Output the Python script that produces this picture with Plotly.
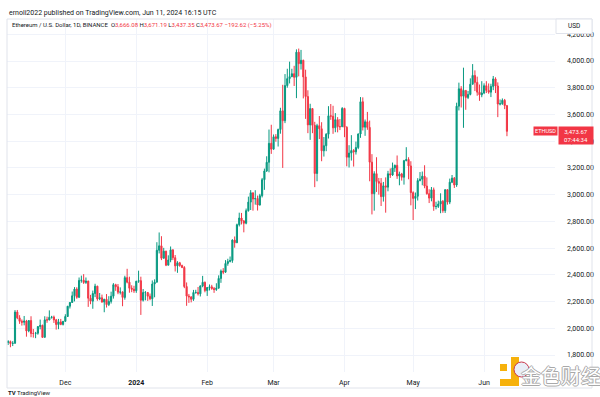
import pandas as pd
import plotly.graph_objects as go

# ---------------- data (ETH/USD daily, Binance) ----------------
start_date = "2023-11-06"

open_nov = [1894,1900,1886,1888,2121,2078,2052,2045,2054,1980,2058,1961,1961,1963,2013,2022,1932,2063,2062,2082,2084,2063,2028,2048,2029]
high_nov = [1911,1908,1904,2136,2137,2098,2066,2092,2063,2060,2090,1995,1973,2015,2065,2027,2090,2087,2134,2093,2095,2070,2070,2070,2054]
low_nov = [1875,1858,1867,1884,2068,2033,2020,2022,1937,1970,1933,1930,1926,1952,1992,1930,1932,2041,2060,2072,2040,1990,1993,2023,2021]
close_nov = [1900,1886,1888,2121,2078,2052,2045,2054,1980,2058,1961,1961,1963,2013,2022,1932,2063,2062,2082,2084,2063,2028,2048,2029,2052]

open_dec = [2052,2088,2165,2193,2243,2293,2232,2358,2360,2343,2353,2225,2203,2260,2315,2220,2228,2196,2217,2177,2201,2240,2326,2311,2270,2272,2231,2379,2345,2300,2292]
high_dec = [2105,2167,2195,2275,2308,2307,2380,2394,2405,2380,2356,2250,2282,2333,2318,2264,2252,2220,2256,2240,2274,2338,2333,2331,2306,2276,2393,2445,2386,2322,2318]
low_dec = [2050,2085,2148,2191,2201,2221,2226,2341,2332,2332,2160,2180,2146,2233,2206,2210,2192,2120,2155,2166,2185,2222,2280,2255,2253,2165,2214,2336,2266,2270,2265]
close_dec = [2088,2165,2193,2243,2293,2232,2358,2360,2343,2353,2225,2203,2260,2315,2220,2228,2196,2217,2177,2201,2240,2326,2311,2270,2272,2231,2379,2345,2300,2292,2281]

open_jan = [2281,2352,2356,2210,2268,2268,2240,2221,2331,2345,2584,2617,2524,2577,2472,2511,2587,2528,2467,2490,2470,2455,2312,2241,2235,2217,2268,2268,2258,2317,2344]
high_jan = [2355,2431,2386,2294,2278,2270,2260,2358,2366,2644,2717,2689,2602,2580,2546,2612,2590,2548,2502,2497,2476,2465,2343,2257,2238,2287,2288,2309,2321,2392,2350]
low_jan = [2265,2340,2100,2200,2209,2205,2210,2167,2232,2343,2560,2510,2522,2465,2472,2494,2510,2425,2415,2460,2450,2300,2168,2190,2194,2205,2258,2245,2238,2307,2269]
close_jan = [2352,2356,2210,2268,2268,2240,2221,2331,2345,2584,2617,2524,2577,2472,2511,2587,2528,2467,2490,2470,2455,2312,2241,2235,2217,2268,2268,2258,2317,2344,2282]

open_feb = [2282,2305,2310,2297,2290,2300,2373,2428,2420,2485,2500,2507,2660,2640,2775,2825,2803,2786,2880,2944,3014,2967,2971,2922,2992,3112,3177,3242,3384]
high_feb = [2309,2328,2325,2309,2337,2396,2440,2450,2510,2520,2537,2666,2687,2783,2865,2863,2810,2896,2985,3034,3014,3033,2993,3006,3125,3195,3287,3487,3523]
low_feb = [2242,2283,2288,2265,2280,2298,2340,2405,2415,2468,2493,2490,2603,2638,2762,2777,2718,2778,2873,2885,2880,2925,2881,2919,2979,3036,3170,3167,3305]
close_feb = [2305,2310,2297,2290,2300,2373,2428,2420,2485,2500,2507,2660,2640,2775,2825,2803,2786,2880,2944,3014,2967,2971,2922,2992,3112,3177,3242,3384,3340]

open_mar = [3340,3433,3421,3487,3627,3553,3816,3868,3883,3905,3878,4066,3980,4005,3881,3734,3522,3644,3519,3158,3516,3493,3328,3366,3452,3590,3587,3500,3561,3509,3508]
high_mar = [3450,3453,3494,3650,3822,3902,3942,3995,3942,3964,4087,4093,4083,4010,3935,3781,3680,3645,3545,3530,3588,3542,3431,3460,3662,3678,3665,3610,3580,3566,3655]
low_mar = [3338,3396,3360,3456,3200,3535,3800,3832,3879,3813,3722,3885,3936,3720,3567,3460,3410,3460,3056,3100,3416,3250,3285,3325,3420,3560,3455,3467,3466,3483,3508]
close_mar = [3433,3421,3487,3627,3553,3816,3868,3883,3905,3878,4066,3980,4005,3881,3734,3522,3644,3519,3158,3516,3493,3328,3366,3452,3590,3587,3500,3561,3509,3508,3645]

open_apr = [3645,3504,3280,3311,3330,3320,3352,3454,3695,3505,3545,3503,3243,3007,3157,3098,3085,2985,3066,3056,3156,3147,3200,3219,3140,3155,3130,3254,3263,3215]
high_apr = [3650,3512,3370,3445,3341,3397,3458,3730,3728,3562,3619,3554,3303,3175,3280,3125,3124,3095,3129,3178,3196,3240,3225,3293,3172,3163,3260,3355,3280,3250]
low_apr = [3430,3212,3203,3255,3210,3300,3340,3425,3480,3440,3485,3100,2852,2880,3020,3000,2915,2948,2865,3025,3125,3140,3170,3118,3070,3105,3075,3250,3115,2920]
close_apr = [3504,3280,3311,3330,3320,3352,3454,3695,3505,3545,3503,3243,3007,3157,3098,3085,2985,3066,3056,3156,3147,3200,3219,3140,3155,3130,3254,3263,3215,3015]

open_may = [3015,2972,2988,3105,3116,3138,3064,3007,2974,3036,2911,2912,2930,2950,2880,3037,2944,3093,3123,3072,3662,3792,3737,3780,3727,3750,3826,3892,3840,3767,3747]
high_may = [3025,3016,3123,3169,3173,3220,3129,3040,3057,3053,2947,2955,3010,2960,3040,3040,3120,3147,3132,3688,3838,3812,3950,3780,3776,3870,3977,3930,3883,3824,3849]
low_may = [2810,2892,2956,3100,3070,3048,3000,2937,2950,2879,2890,2900,2861,2864,2863,2925,2929,3086,3050,3058,3630,3652,3500,3635,3715,3743,3825,3775,3740,3702,3729]
close_may = [2972,2988,3105,3116,3138,3064,3007,2974,3036,2911,2912,2930,2950,2880,3037,2944,3093,3123,3072,3662,3792,3737,3780,3727,3750,3826,3892,3840,3767,3747,3761]

open_jun = [3761,3815,3780,3767,3810,3866,3813,3678,3680,3706,3666.08]
high_jun = [3833,3849,3832,3830,3888,3878,3840,3712,3720,3716,3671.19]
low_jun = [3752,3760,3755,3730,3782,3760,3580,3668,3672,3640,3437.35]
close_jun = [3815,3780,3767,3810,3866,3813,3678,3680,3706,3666.29,3473.67]

opens = open_nov + open_dec + open_jan + open_feb + open_mar + open_apr + open_may + open_jun
highs = high_nov + high_dec + high_jan + high_feb + high_mar + high_apr + high_may + high_jun
lows = low_nov + low_dec + low_jan + low_feb + low_mar + low_apr + low_may + low_jun
closes = close_nov + close_dec + close_jan + close_feb + close_mar + close_apr + close_may + close_jun
dates = pd.date_range(start_date, periods=len(closes), freq="D")

price_ticks = [1800, 2000, 2200, 2400, 2600, 2800, 3000, 3200, 3400, 3600, 3800, 4000, 4200]
month_ticks = ["2023-12-01", "2024-01-01", "2024-02-01", "2024-03-01", "2024-04-01", "2024-05-01", "2024-06-01"]
month_labels = ["Dec", "<b>2024</b>", "Feb", "Mar", "Apr", "May", "Jun"]

# ---------------- styling / layout helpers ----------------
W, H = 600, 397
L, R, T, B = 7, 555, 19, 372
def px(x):
    return (x - L) / (R - L)
def py(y):
    return (B - y) / (B - T)

GREEN = "#089981"
RED = "#F23645"
TXT = "#131722"
GRID = "#f0f3fa"
FONT = "Roboto"

fig = go.Figure(go.Candlestick(
    x=dates, open=opens, high=highs, low=lows, close=closes,
    increasing=dict(line=dict(color=GREEN, width=1), fillcolor=GREEN),
    decreasing=dict(line=dict(color=RED, width=1), fillcolor=RED),
    whiskerwidth=0, showlegend=False, hoverinfo="skip",
))

fig.update_layout(
    width=W, height=H,
    margin=dict(l=L, r=W - R, t=T, b=H - B),
    paper_bgcolor="white", plot_bgcolor="white",
    font=dict(family=FONT, color=TXT, size=7),
    xaxis=dict(
        type="date", range=["2023-11-05 12:00", "2024-07-02"],
        tickvals=month_ticks, ticktext=month_labels,
        showgrid=True, gridcolor=GRID, gridwidth=1,
        zeroline=False, showline=False, ticks="",
        tickfont=dict(size=7, color=TXT), ticklabelstandoff=5,
        rangeslider=dict(visible=False),
    ),
    yaxis=dict(
        range=[1672.8, 4314.3], side="right",
        tickvals=price_ticks, tickformat=",.2f",
        showgrid=True, gridcolor=GRID, gridwidth=1,
        zeroline=False, showline=False, ticks="",
        tickfont=dict(size=7, color=TXT), ticklabelstandoff=11,
    ),
)

shapes = []
annotations = []

# chart frame
shapes.append(dict(type="rect", xref="paper", yref="paper",
                   x0=px(L), x1=px(592), y0=py(388), y1=py(T),
                   line=dict(color="#e0e3eb", width=1), fillcolor="rgba(0,0,0,0)", layer="above"))
# USD box
shapes.append(dict(type="rect", xref="paper", yref="paper",
                   x0=px(556), x1=px(592), y0=py(33.5), y1=py(T),
                   line=dict(color="#e0e3eb", width=1), fillcolor="white", layer="above"))
annotations.append(dict(xref="paper", yref="paper", x=px(574), y=py(26), text="USD",
                        showarrow=False, font=dict(size=6.5, color=TXT),
                        xanchor="center", yanchor="middle"))

# header lines
annotations.append(dict(xref="paper", yref="paper", x=px(7), y=py(13),
                        text="ernoli2022 published on TradingView.com, Jun 11, 2024 16:15 UTC",
                        showarrow=False, font=dict(size=7, color=TXT),
                        xanchor="left", yanchor="middle"))
red = lambda s: f"<span style='color:{RED}'>{s}</span>"
last_o, last_h, last_l, last_c = opens[-1], highs[-1], lows[-1], closes[-1]
chg = last_c - closes[-2]
pct = chg / closes[-2] * 100
hdr = ("Ethereum / U.S. Dollar, 1D, BINANCE&nbsp;&nbsp;"
       f"O{red(f'{last_o:,.2f}')} H{red(f'{last_h:,.2f}')} L{red(f'{last_l:,.2f}')} "
       f"C{red(f'{last_c:,.2f}')} {red(f'−{abs(chg):,.2f} (−{abs(pct):.2f}%)')}")
annotations.append(dict(xref="paper", yref="paper", x=px(10), y=py(25), text=hdr,
                        showarrow=False, font=dict(size=6, color=TXT),
                        xanchor="left", yanchor="middle"))

# last price labels
annotations.append(dict(xref="paper", yref="y", x=px(545), y=last_c, text="ETHUSD",
                        showarrow=False, font=dict(size=5.5, color="white"),
                        bgcolor=RED, borderpad=1, xanchor="center", yanchor="middle"))
annotations.append(dict(xref="paper", yref="y", x=px(558), y=last_c, yshift=5,
                        text=f"{last_c:,.2f}<br>07:44:34",
                        showarrow=False, font=dict(size=6, color="white"),
                        bgcolor=RED, borderpad=1, width=32,
                        xanchor="left", yanchor="top", align="center"))

# TradingView logo text
annotations.append(dict(xref="paper", yref="paper", x=px(6), y=py(392),
                        text="<b>TV</b> TradingView", showarrow=False,
                        font=dict(size=6, color=TXT), xanchor="left", yanchor="middle"))

# watermark (金色财经)
GOLD = "#F6B10B"
for (x0, y0, x1, y1) in [(500, 364, 507, 371), (511, 357, 519, 386), (500, 379, 519, 386)]:
    shapes.append(dict(type="rect", xref="paper", yref="paper",
                       x0=px(x0), x1=px(x1), y0=py(y1), y1=py(y0),
                       line=dict(width=0), fillcolor=GOLD, layer="above"))
shapes.append(dict(type="circle", xref="paper", yref="paper",
                   x0=px(514), x1=px(529), y0=py(377), y1=py(362),
                   line=dict(color="#c9374b", width=1), fillcolor="#e9eef7", layer="above"))
annotations.append(dict(xref="paper", yref="paper", x=px(561), y=py(375), text="金色财经",
                        showarrow=False,
                        font=dict(size=20, color="white", family="Noto Sans CJK SC",
                                  shadow="1px 0 0 #a9a9a9, -1px 0 0 #a9a9a9, 0 1px 0 #a9a9a9, 0 -1px 0 #a9a9a9"),
                        xanchor="center", yanchor="middle"))

fig.update_layout(shapes=shapes, annotations=annotations)
fig.write_html("out.html", config={"displayModeBar": False},
               post_script="document.body.style.margin='0';document.body.style.overflow='hidden';")
